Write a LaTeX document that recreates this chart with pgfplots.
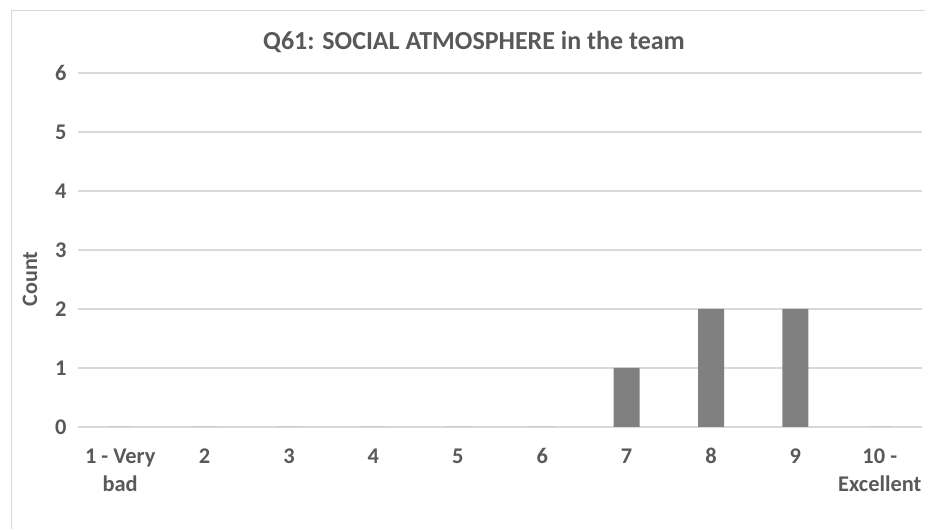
\documentclass[border=0pt]{standalone}
\usepackage{pgfplots}
\pgfplotsset{compat=1.18}
\usepackage{fontspec}
\setmainfont{Carlito}
\definecolor{txt}{HTML}{595959}
\definecolor{gridc}{HTML}{D9D9D9}
\definecolor{barc}{HTML}{808080}
\newcommand\ts{\rule{0pt}{16pt}}
\begin{document}
\begin{tikzpicture}[x=1pt,y=1pt]
\useasboundingbox (0,0) rectangle (925,529);
\begin{scope}
\clip (0,0) rectangle (925,529);
\draw[gridc,line width=1.2pt] (11.5,-5) -- (11.5,518.5) -- (940,518.5);
\end{scope}
\node[text=txt,font=\fontsize{26}{30}\selectfont\bfseries] at (474,487) {Q61: SOCIAL ATMOSPHERE in the team};
\node[text=txt,font=\fontsize{22}{26}\selectfont\bfseries,rotate=90] at (30,250) {Count};
\begin{axis}[
  at={(78pt,102pt)}, anchor=south west,
  scale only axis, width=844pt, height=354pt,
  xmin=0.5, xmax=10.5, ymin=0, ymax=6,
  xtick={1,...,10},
  xticklabels={{\ts 1 - Very\\bad},\ts 2,\ts 3,\ts 4,\ts 5,\ts 6,\ts 7,\ts 8,\ts 9,{\ts 10 -\\Excellent}},
  x tick label style={align=center, text=txt, font=\fontsize{22.4}{28}\selectfont\bfseries, anchor=north, yshift=-17pt},
  ytick={0,...,6},
  y tick label style={text=txt, font=\fontsize{22.4}{27}\selectfont\bfseries},
  /pgf/number format/assume math mode=true,
  yticklabel style={xshift=-8pt},
  major tick length=0pt,
  axis line style={draw=none},
  axis x line*=bottom,
  ymajorgrids, grid style={gridc, line width=1.2pt},
  clip=false,
]
\addplot[ybar, bar width=26pt, fill=barc, draw=none] coordinates {(1,0) (2,0) (3,0) (4,0) (5,0) (6,0) (7,1) (8,2) (9,2) (10,0)};
\end{axis}
\end{tikzpicture}
\end{document}
